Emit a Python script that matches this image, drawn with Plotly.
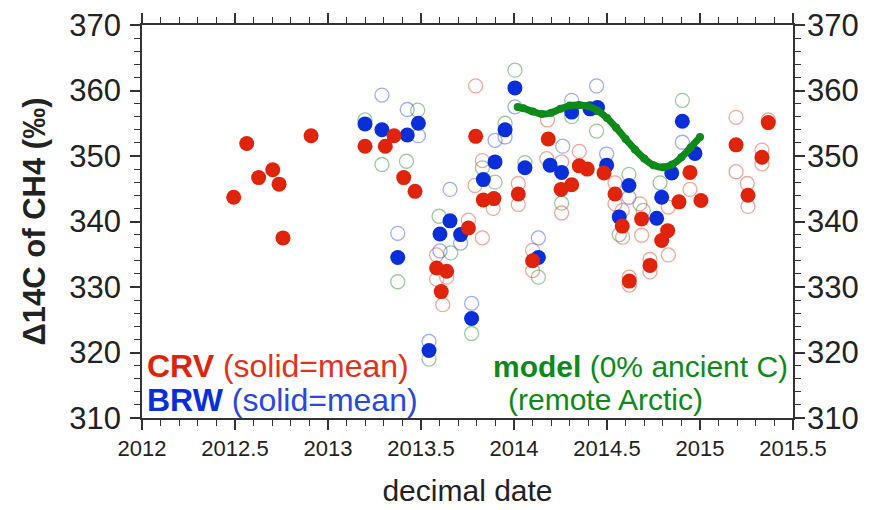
import plotly.graph_objects as go

# ---------------- data ----------------
crv_mean_x = [2012.493, 2012.563, 2012.627, 2012.703, 2012.737, 2012.758, 2012.909,
              2013.199, 2013.308, 2013.355, 2013.407, 2013.468, 2013.584, 2013.638, 2013.609,
              2013.755, 2013.794, 2013.835, 2013.892, 2014.023, 2014.100, 2014.184, 2014.253,
              2014.310, 2014.351, 2014.394, 2014.484, 2014.543, 2014.582, 2014.620, 2014.686,
              2014.731, 2014.794, 2014.826, 2014.887, 2014.946, 2015.005, 2015.194, 2015.258,
              2015.333, 2015.367]
crv_mean_y = [343.7, 351.9, 346.7, 347.9, 345.7, 337.5, 353.1,
              351.5, 351.5, 353.1, 346.7, 344.6, 332.9, 332.4, 329.3,
              339.0, 353.0, 343.3, 343.5, 344.2, 334.0, 352.6, 344.9,
              345.6, 348.5, 348.0, 347.4, 344.2, 339.3, 330.9, 340.4,
              333.3, 337.1, 338.6, 343.0, 347.5, 343.2, 351.7, 344.0,
              349.8, 355.1]

crv_samp_x = [2013.794, 2014.180, 2014.351, 2013.830, 2013.790, 2013.888, 2014.023, 2014.023,
              2014.256, 2014.176, 2014.256, 2014.543, 2014.543, 2014.584, 2014.686, 2014.677,
              2014.946, 2014.830, 2014.731, 2014.731, 2014.620, 2014.620, 2014.100, 2014.100,
              2013.755, 2013.830, 2013.584, 2013.584, 2013.638, 2013.617, 2015.194, 2015.194,
              2015.254, 2015.258, 2015.367, 2015.333, 2015.333, 2014.830, 2014.582]
crv_samp_y = [360.7, 355.5, 350.7, 349.3, 345.5, 342.0, 345.8, 342.6,
              341.3, 349.6, 349.1, 342.7, 345.9, 337.6, 337.9, 342.7,
              344.9, 334.9, 334.2, 332.3, 331.5, 330.3, 335.6, 332.5,
              340.2, 337.5, 334.9, 331.2, 331.5, 327.3, 355.9, 347.6,
              345.8, 342.3, 355.5, 350.9, 348.8, 342.2, 341.7]

brw_mean_x = [2013.199, 2013.290, 2013.375, 2013.426, 2013.486, 2013.543, 2013.602, 2013.656,
              2013.713, 2013.772, 2013.835, 2013.898, 2013.952, 2014.005, 2014.059, 2014.131,
              2014.194, 2014.256, 2014.310, 2014.409, 2014.449, 2014.498, 2014.566, 2014.618,
              2014.767, 2014.794, 2014.848, 2014.905, 2014.973]
brw_mean_y = [354.9, 354.0, 334.5, 353.2, 355.0, 320.3, 338.1, 340.1,
              338.0, 325.2, 346.4, 349.1, 354.0, 360.4, 348.2, 334.5,
              348.6, 347.5, 356.7, 357.2, 357.4, 348.6, 340.7, 345.5,
              340.5, 343.7, 347.4, 355.3, 350.4]

brw_samp_x = [2013.290, 2013.426, 2013.486, 2013.375, 2013.543, 2013.602, 2013.656, 2013.713,
              2013.772, 2013.898, 2013.952, 2014.005, 2014.131, 2014.262, 2014.310, 2014.444,
              2014.498, 2014.618, 2014.905]
brw_samp_y = [359.3, 357.1, 353.1, 338.2, 321.7, 335.5, 344.9, 336.7,
              327.5, 352.4, 352.9, 357.5, 337.5, 351.5, 358.5, 360.7,
              350.3, 343.7, 352.1]

alt_samp_x = [2013.199, 2013.290, 2013.375, 2013.422, 2013.482, 2013.543, 2013.597, 2013.660,
              2013.772, 2013.830, 2013.898, 2013.952, 2014.005, 2014.059, 2014.131, 2014.256,
              2014.310, 2014.444, 2014.618, 2014.785, 2014.905, 2014.566, 2014.695]
alt_samp_y = [355.5, 348.7, 330.8, 349.2, 357.0, 319.0, 340.8, 335.2,
              322.9, 348.2, 346.0, 355.0, 363.1, 349.0, 331.5, 342.8,
              356.0, 353.8, 347.2, 345.9, 358.5, 338.0, 341.7]

model_x = [2014.02, 2014.05, 2014.10, 2014.15, 2014.20, 2014.25, 2014.30, 2014.35, 2014.40,
           2014.45, 2014.50, 2014.55, 2014.60, 2014.65, 2014.70, 2014.75, 2014.80, 2014.85,
           2014.90, 2014.95, 2015.00]
model_y = [357.5, 357.3, 356.8, 356.4, 356.6, 357.2, 357.7, 357.8, 357.6,
           356.9, 355.8, 354.3, 352.6, 351.0, 349.6, 348.6, 348.3, 348.7,
           349.8, 351.3, 352.9]

x_tickvals = [2012, 2012.5, 2013, 2013.5, 2014, 2014.5, 2015, 2015.5]
x_ticktext = ["2012", "2012.5", "2013", "2013.5", "2014", "2014.5", "2015", "2015.5"]
y_tickvals = [310, 320, 330, 340, 350, 360, 370]

# ---------------- styles ----------------
RED = "#e0240c"
BLUE = "#0a2ed8"
GREEN = "#0d8a1a"
FONT = "Liberation Sans, Arial, Helvetica, sans-serif"
AX = "#333333"

fig = go.Figure()

def open_trace(x, y, col):
    return go.Scatter(x=x, y=y, mode="markers", showlegend=False, hoverinfo="skip",
                      marker=dict(symbol="circle-open", size=14, color=col,
                                  line=dict(width=1.3, color=col)))

fig.add_trace(open_trace(alt_samp_x, alt_samp_y, "rgba(30,140,40,0.45)"))
fig.add_trace(open_trace(brw_samp_x, brw_samp_y, "rgba(40,70,235,0.45)"))
fig.add_trace(open_trace(crv_samp_x, crv_samp_y, "rgba(225,60,30,0.45)"))

fig.add_trace(go.Scatter(x=brw_mean_x, y=brw_mean_y, mode="markers", showlegend=False,
                         marker=dict(size=15, color=BLUE, line=dict(width=0))))
fig.add_trace(go.Scatter(x=crv_mean_x, y=crv_mean_y, mode="markers", showlegend=False,
                         marker=dict(size=15, color=RED, line=dict(width=0))))

fig.add_trace(go.Scatter(x=model_x, y=model_y, mode="lines+markers", showlegend=False,
                         line=dict(color=GREEN, width=7, shape="spline"),
                         marker=dict(size=8, color=GREEN)))

# invisible trace for right axis
fig.add_trace(go.Scatter(x=[2012], y=[310], yaxis="y2", mode="markers",
                         marker=dict(opacity=0), showlegend=False, hoverinfo="skip"))

fig.update_layout(
    width=875, height=510,
    margin=dict(l=142, r=82, t=25, b=92),
    paper_bgcolor="white", plot_bgcolor="white",
    font=dict(family=FONT, color="#222"),
    xaxis=dict(range=[2012, 2015.5], tickvals=x_tickvals, ticktext=x_ticktext,
               automargin=False,
               ticks="outside", ticklen=10, tickwidth=1.5, tickcolor=AX,
               minor=dict(dtick=0.1, tick0=2012, ticks="outside", ticklen=6, tickwidth=1.2, tickcolor=AX),
               showline=True, linewidth=1.5, linecolor=AX, mirror="ticks",
               showgrid=False, zeroline=False,
               tickfont=dict(size=22, color="#222"),
               title=dict(text="decimal date", font=dict(size=30, color="#222"), standoff=20)),
    yaxis=dict(range=[310, 370], tickvals=y_tickvals,
               automargin=False,
               ticks="outside", ticklen=10, tickwidth=1.5, tickcolor=AX,
               minor=dict(dtick=2, tick0=310, ticks="outside", ticklen=6, tickwidth=1.2, tickcolor=AX),
               showline=True, linewidth=1.5, linecolor=AX, mirror="ticks",
               showgrid=False, zeroline=False,
               ticklabelstandoff=3,
               tickfont=dict(size=31, color="#222"),
               title=dict(text="<b>Δ14C of CH4 (‰)</b>", font=dict(size=31, color="#222"), standoff=14)),
    yaxis2=dict(range=[310, 370], tickvals=y_tickvals, overlaying="y", side="right",
                automargin=False,
                ticks="", showline=False, showgrid=False, zeroline=False,
                ticklabelstandoff=13,
                tickfont=dict(size=31, color="#222")),
)

fig.add_annotation(x=2012.015, y=317.9, xref="x", yref="y", xanchor="left", yanchor="middle",
                   showarrow=False,
                   text=f"<b><span style='color:{RED}'>CRV</span></b><span style='color:#e2321c'> (solid=mean)</span>",
                   font=dict(size=32))
fig.add_annotation(x=2012.015, y=312.8, xref="x", yref="y", xanchor="left", yanchor="middle",
                   showarrow=False,
                   text=f"<b><span style='color:{BLUE}'>BRW</span></b><span style='color:#2a47e0'> (solid=mean)</span>",
                   font=dict(size=32))
fig.add_annotation(x=2015.485, y=317.9, xref="x", yref="y", xanchor="right", yanchor="middle",
                   showarrow=False,
                   text="<b>model</b> (0% ancient C)",
                   font=dict(size=30, color=GREEN))
fig.add_annotation(x=2014.49, y=312.8, xref="x", yref="y", xanchor="center", yanchor="middle",
                   showarrow=False,
                   text="(remote Arctic)",
                   font=dict(size=30, color=GREEN))

fig.write_html("out.html")
